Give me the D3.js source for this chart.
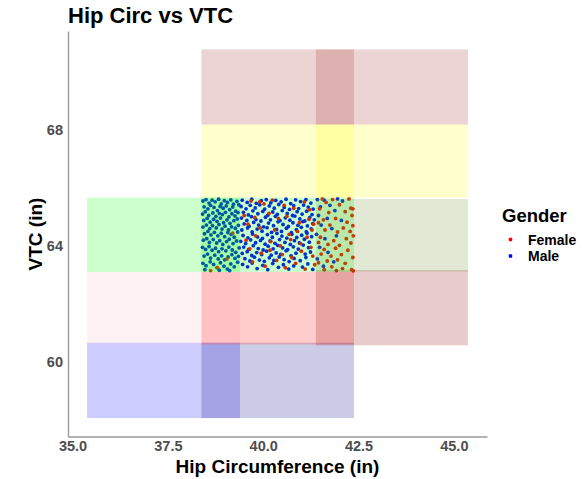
<!DOCTYPE html>
<html>
<head>
<meta charset="utf-8">
<script src="https://cdn.jsdelivr.net/npm/d3@7"></script>
<style>
  body { margin: 0; background: #fff; }
  svg text { font-family: "Liberation Sans", Arial, sans-serif; font-weight: bold; }
</style>
</head>
<body>
<div id="chart"></div>
<script>
// size boxes (hip range x VTC range), drawn over the points with alpha .2
var boxColors = ["blue", "navy", "pink", "red", "darkred", "#00ff00", "#00ff00", "olivedrab", "yellow", "yellow", "brown", "brown"];
var boxHipMin = [35.38, 38.38, 35.38, 38.38, 41.38, 35.38, 38.38, 41.38, 38.38, 41.38, 38.38, 41.38];
var boxHipMax = [39.39, 42.38, 39.39, 42.38, 45.37, 39.39, 42.38, 45.37, 42.38, 45.37, 42.38, 45.37];
var boxVtcMin = [58.06, 58.06, 60.60, 60.60, 60.57, 63.10, 63.10, 63.11, 65.67, 65.67, 68.19, 68.19];
var boxVtcMax = [60.66, 60.66, 63.10, 63.10, 63.17, 65.67, 65.67, 65.62, 68.19, 68.19, 70.78, 70.78];

var genders = ["Female", "Male"];
var genderColors = ["red", "blue"];
var xTicks = [35, 37.5, 40, 42.5, 45];
var yTicks = [60, 64, 68];

// [hip, vtc]
var malePoints = [
  [38.42,65.55],[38.50,65.60],[38.58,65.48],[38.66,65.58],[38.74,65.52],[38.83,65.61],[38.90,65.45],[38.98,65.56],[39.06,65.50],[39.15,65.59],[39.22,65.44],[39.31,65.54],
  [38.45,65.35],[38.55,65.28],[38.62,65.40],[38.71,65.33],[38.80,65.22],[38.87,65.36],[38.95,65.30],[39.03,65.38],[39.12,65.25],[39.20,65.34],[39.28,65.20],[39.36,65.42],
  [38.41,65.10],[38.48,65.18],[38.57,65.05],[38.68,65.14],[38.76,65.02],[38.85,65.12],[38.93,65.08],[39.01,65.16],[39.10,65.00],[39.18,65.11],[39.26,65.04],[39.34,65.15],
  [38.44,64.88],[38.53,64.95],[38.61,64.82],[38.70,64.92],[38.79,64.85],[38.88,64.96],[38.96,64.80],[39.05,64.90],[39.13,64.78],[39.23,64.87],[39.32,64.93],
  [38.42,64.65],[38.51,64.72],[38.60,64.60],[38.67,64.70],[38.77,64.62],[38.84,64.74],[38.92,64.58],[39.00,64.68],[39.09,64.55],[39.17,64.66],[39.27,64.61],[39.35,64.71],
  [38.46,64.42],[38.55,64.50],[38.63,64.38],[38.72,64.47],[38.81,64.35],[38.90,64.44],[38.99,64.32],[39.07,64.46],[39.16,64.40],[39.24,64.30],[39.33,64.48],
  [38.43,64.20],[38.52,64.25],[38.59,64.12],[38.69,64.22],[38.78,64.10],[38.86,64.18],[38.94,64.05],[39.04,64.15],[39.11,64.23],[39.21,64.08],[39.30,64.17],
  [38.41,63.95],[38.49,63.88],[38.58,63.98],[38.66,63.85],[38.75,63.92],[38.83,63.80],[38.92,63.90],[39.02,63.83],[39.10,63.96],[39.19,63.86],[39.28,63.78],[39.37,63.93],
  [38.45,63.65],[38.54,63.72],[38.62,63.58],[38.73,63.68],[38.82,63.55],[38.91,63.66],[38.99,63.52],[39.08,63.62],[39.18,63.70],[39.26,63.57],[39.35,63.64],
  [38.42,63.40],[38.50,63.32],[38.61,63.45],[38.70,63.36],[38.79,63.25],[38.88,63.42],[38.97,63.30],[39.06,63.20],[39.15,63.38],[39.24,63.28],[39.33,63.44],
  [38.47,63.18],[38.85,63.16],[39.12,63.15],
  [39.45,65.58],[39.58,65.50],[39.70,65.61],[39.82,65.47],[39.95,65.56],[40.08,65.60],[40.20,65.49],[40.33,65.57],[40.47,65.52],[40.60,65.61],[40.72,65.46],[40.85,65.59],[40.98,65.53],[41.12,65.60],[41.25,65.48],
  [39.42,65.36],[39.55,65.28],[39.66,65.40],[39.79,65.31],[39.91,65.42],[40.04,65.27],[40.16,65.38],[40.29,65.30],[40.41,65.43],[40.55,65.33],[40.69,65.26],[40.80,65.39],[40.93,65.29],[41.06,65.41],[41.18,65.34],[41.31,65.27],
  [39.48,65.16],[39.61,65.07],[39.73,65.21],[39.86,65.11],[39.99,65.19],[40.12,65.06],[40.25,65.17],[40.37,65.09],[40.50,65.22],[40.63,65.12],[40.77,65.05],[40.89,65.18],[41.02,65.10],[41.14,65.20],[41.28,65.08],
  [39.43,64.96],[39.57,64.88],[39.69,65.01],[39.81,64.91],[39.94,64.86],[40.06,64.99],[40.19,64.90],[40.32,65.02],[40.44,64.87],[40.58,64.97],[40.70,64.89],[40.83,65.03],[40.96,64.93],[41.09,64.86],[41.22,64.98],[41.34,64.90],
  [39.50,64.76],[39.63,64.68],[39.75,64.81],[39.88,64.72],[40.01,64.66],[40.14,64.79],[40.27,64.70],[40.39,64.83],[40.52,64.74],[40.66,64.67],[40.78,64.80],[40.91,64.71],[41.04,64.84],[41.16,64.69],[41.30,64.77],
  [39.44,64.55],[39.59,64.62],[39.71,64.48],[39.84,64.58],[39.97,64.51],[40.10,64.63],[40.22,64.47],[40.35,64.57],[40.48,64.50],[40.61,64.61],[40.74,64.46],[40.87,64.56],[41.00,64.64],[41.13,64.49],[41.26,64.59],
  [39.47,64.36],[39.60,64.28],[39.72,64.41],[39.85,64.31],[39.98,64.26],[40.11,64.39],[40.24,64.30],[40.36,64.43],[40.49,64.34],[40.62,64.27],[40.75,64.40],[40.88,64.29],[41.01,64.37],[41.15,64.44],[41.27,64.32],
  [39.41,64.16],[39.54,64.08],[39.67,64.21],[39.80,64.11],[39.93,64.19],[40.05,64.06],[40.18,64.17],[40.31,64.09],[40.43,64.22],[40.57,64.12],[40.71,64.05],[40.82,64.18],[40.95,64.10],[41.08,64.23],[41.21,64.13],
  [39.49,63.96],[39.62,63.88],[39.74,64.01],[39.87,63.91],[40.00,63.86],[40.13,63.99],[40.26,63.90],[40.38,64.02],[40.51,63.93],[40.64,63.87],[40.79,63.97],[40.92,63.89],[41.05,64.03],[41.19,63.94],
  [39.45,63.74],[39.58,63.80],[39.70,63.67],[39.83,63.77],[39.96,63.70],[40.09,63.82],[40.21,63.68],[40.34,63.76],[40.46,63.71],[40.60,63.83],[40.73,63.66],[40.86,63.75],[41.10,63.72],[41.24,63.79],
  [39.52,63.56],[39.65,63.48],[39.77,63.61],[39.90,63.51],[40.03,63.47],[40.16,63.59],[40.28,63.50],[40.42,63.62],[40.55,63.53],[40.68,63.46],[40.81,63.57],[40.97,63.49],[41.12,63.60],
  [39.46,63.36],[39.59,63.28],[39.71,63.41],[39.84,63.22],[39.99,63.33],[40.12,63.18],[40.25,63.39],[40.40,63.26],[40.53,63.35],[40.67,63.20],[40.80,63.31],[41.03,63.27],[41.17,63.38],[41.30,63.19],
  [41.42,65.60],[41.60,65.58],[41.95,65.62],[42.08,65.55],[41.50,65.35],[41.75,65.40],[41.88,65.22],[41.45,65.05],[41.68,64.95],[42.05,64.88],
  [41.52,64.72],[41.80,64.60],[41.40,64.40],[41.62,64.25],[41.92,64.35],[41.48,63.95],[41.70,63.78],[41.42,63.55],[41.58,63.30],[41.85,63.45]
];

var femalePoints = [
  [39.20,64.44],[38.80,63.25],[39.05,63.55],[38.62,63.15],
  [39.68,65.55],[39.91,65.52],[40.02,65.45],[40.24,65.58],[40.55,65.40],[40.80,65.30],[41.08,65.52],[41.22,65.25],
  [39.50,65.05],[39.78,64.98],[40.15,65.12],[40.40,64.95],[40.62,65.02],[40.95,64.80],[41.20,64.92],[41.32,64.75],
  [39.60,64.75],[39.92,64.62],[40.30,64.55],[40.68,64.40],[40.90,64.50],[41.15,64.30],[41.28,64.55],
  [39.55,64.20],[39.80,64.35],[40.20,64.15],[40.45,64.00],[40.72,64.22],[40.98,64.08],[41.25,63.95],
  [39.65,63.90],[39.95,63.75],[40.18,63.85],[40.50,63.70],[40.75,63.60],[41.00,63.82],[41.30,63.65],
  [39.72,63.45],[40.05,63.30],[40.35,63.50],[40.58,63.25],[40.85,63.40],[41.10,63.20],[41.35,63.35],
  [41.55,65.62],[41.82,65.60],[42.25,65.62],[41.65,65.50],[42.00,65.42],[42.30,65.30],[42.35,65.28],[41.48,65.28],[41.72,65.15],[42.15,65.18],[42.33,65.05],
  [41.58,64.90],[41.90,64.95],[42.20,64.82],[42.35,64.70],[41.45,64.80],[41.75,64.72],[42.10,64.62],[41.62,64.55],[41.95,64.48],[42.28,64.50],[42.36,64.35],
  [41.50,64.30],[41.85,64.18],[42.18,64.25],[41.70,64.05],[42.00,64.02],[42.30,64.10],[41.45,64.12],[41.60,63.88],[41.90,63.92],[42.22,63.85],
  [41.78,63.65],[42.05,63.70],[42.35,63.60],[41.52,63.72],[41.68,63.48],[41.95,63.52],[42.15,63.40],[41.45,63.42],[41.80,63.28],[42.08,63.22],
  [42.32,63.18],[42.36,63.14],[41.60,63.18],[41.92,63.15]
];

var W = 587, H = 479;
var svg = d3.select("#chart").append("svg").attr("width", W).attr("height", H);

// ggplot style 5% expansion around the boxes
var hipExt = [d3.min(boxHipMin), d3.max(boxHipMax)];
var vtcExt = [d3.min(boxVtcMin), d3.max(boxVtcMax)];
var hx = (hipExt[1] - hipExt[0]) * 0.05, vy = (vtcExt[1] - vtcExt[0]) * 0.05;

var x = d3.scaleLinear().domain([hipExt[0] - hx, hipExt[1] + hx]).range([68, 487]);
var y = d3.scaleLinear().domain([vtcExt[0] - vy, vtcExt[1] + vy]).range([436.5, 31]);

// points first, boxes go on top
var pts = svg.append("g");
pts.selectAll(".m").data(malePoints).enter().append("circle")
  .attr("cx", d => x(d[0])).attr("cy", d => y(d[1])).attr("r", 1.9)
  .attr("fill", genderColors[1]);
pts.selectAll(".f").data(femalePoints).enter().append("circle")
  .attr("cx", d => x(d[0])).attr("cy", d => y(d[1])).attr("r", 1.9)
  .attr("fill", genderColors[0]);

svg.append("g").selectAll("rect")
  .data(boxColors)
  .enter().append("rect")
  .attr("x", (d, i) => x(boxHipMin[i]))
  .attr("width", (d, i) => x(boxHipMax[i]) - x(boxHipMin[i]))
  .attr("y", (d, i) => y(boxVtcMax[i]))
  .attr("height", (d, i) => y(boxVtcMin[i]) - y(boxVtcMax[i]))
  .attr("fill", d => d)
  .attr("fill-opacity", 0.2);

// axes
var xAxis = svg.append("g").attr("transform", "translate(0,436.5)")
  .call(d3.axisBottom(x).tickValues(xTicks).tickFormat(d3.format(".1f")).tickSize(0).tickPadding(4));
var yAxis = svg.append("g").attr("transform", "translate(68,0)")
  .call(d3.axisLeft(y).tickValues(yTicks).tickSize(0).tickPadding(5));
[xAxis, yAxis].forEach(a => {
  a.select(".domain").attr("stroke", "#9a9a9a").attr("stroke-width", 1.4);
  a.selectAll("text").attr("fill", "#4d4d4d").style("font-size", "14.5px");
});

// titles
svg.append("text").attr("x", 68).attr("y", 23)
  .style("font-size", "22px").attr("fill", "#000").text("Hip Circ vs VTC");
svg.append("text").attr("x", 277.5).attr("y", 472.5).attr("text-anchor", "middle")
  .style("font-size", "19px").attr("fill", "#000").text("Hip Circumference (in)");
svg.append("text").attr("transform", "translate(41.5,234) rotate(-90)").attr("text-anchor", "middle")
  .style("font-size", "19px").attr("fill", "#000").text("VTC (in)");

// legend
var lg = svg.append("g").attr("transform", "translate(502,0)");
lg.append("text").attr("x", 0).attr("y", 221.5).style("font-size", "18.5px").text("Gender");
genders.forEach((g, i) => {
  lg.append("circle").attr("cx", 8.5).attr("cy", 239.5 + i * 16.5).attr("r", 1.9).attr("fill", genderColors[i]);
  lg.append("text").attr("x", 26).attr("y", 245 + i * 16.2).style("font-size", "14px").text(g);
});
</script>
</body>
</html>
